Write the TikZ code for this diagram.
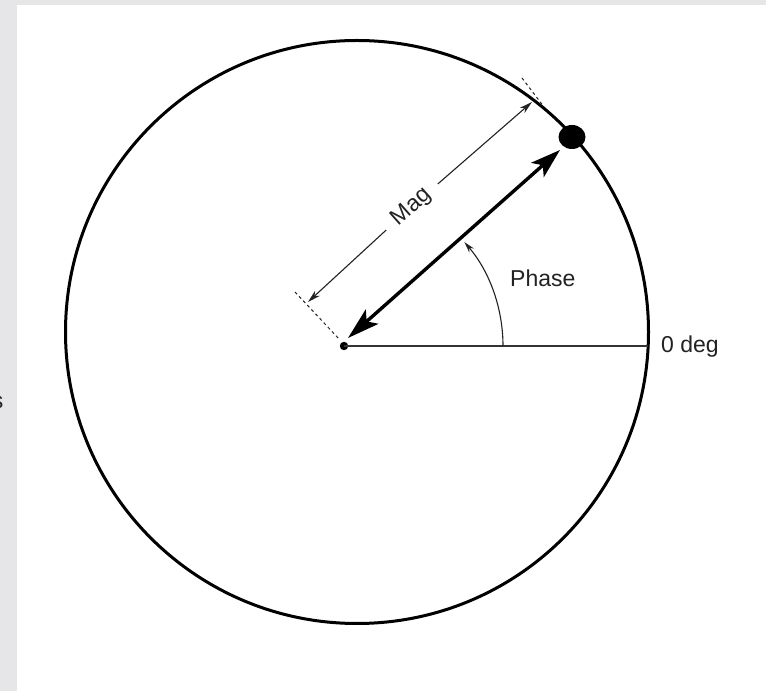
\documentclass[tikz,border=0pt]{standalone}
\usepackage{fontspec}
\setmainfont{Liberation Sans}
\usetikzlibrary{arrows.meta,shapes.geometric}
\definecolor{edgegray}{HTML}{E6E6E8}
\definecolor{ink}{HTML}{222222}
\tikzset{
  lbl/.style={font=\fontsize{23}{27}\selectfont, text=ink, inner sep=0pt},
  rim/.style={line width=3pt, black},
  vec/.style={line width=3.4pt, black, {Stealth[length=32pt,width=19pt,inset=7pt]}-{Stealth[length=30pt,width=19pt,inset=7pt]}},
  dim/.style={line width=1.1pt, ink, -{Stealth[length=13pt,width=7pt]}},
  ext/.style={line width=1pt, ink, dash pattern=on 3pt off 3pt},
  axis/.style={line width=1.8pt, black!80},
  phasearc/.style={line width=1.1pt, ink, -{Stealth[length=11pt,width=6pt]}}
}
\begin{document}
\begin{tikzpicture}[x=1pt,y=1pt]
\clip (0,0) rectangle (766,691);
\useasboundingbox (0,0) rectangle (766,691);
\fill[white] (0,0) rectangle (766,691);
\fill[edgegray] (0,0) rectangle (17,691);
\fill[edgegray] (0,686) rectangle (766,691);
\node[lbl, anchor=east] (cut) at (3.5,289) {s};
% rim
\draw[rim] (357,359) circle (291.5);
% points
\coordinate (O) at (344,345);
\coordinate (zero) at (648,345);
\fill[black] (O) circle (4.2);
\node[ellipse, fill=black, minimum width=27pt, minimum height=24pt, inner sep=0pt] (pt) at (572,554) {};
% axis
\draw[axis] (O) -- (zero);
% vector
\coordinate (vt) at (348,353);
\coordinate (vh) at (560,541);
\draw[vec] (vt) -- (vh);
% magnitude dimension
\coordinate (mA) at (308,389);
\coordinate (mB) at (532,589);
\node[lbl, rotate=41.76, inner xsep=12pt] (mag) at (412,484) {Mag};
\draw[dim] (mag.west) -- (mA);
\draw[dim] (mag.east) -- (mB);
\coordinate (eA1) at (295,399);
\coordinate (eA2) at (340,351);
\coordinate (eB1) at (522,613);
\coordinate (eB2) at (544,584);
\draw[ext] (eA1) -- (eA2);
\draw[ext] (eB1) -- (eB2);
% phase arc
\draw[phasearc] ([shift={(0:159)}]O) arc[start angle=0, end angle=40.8, radius=159];
\node[lbl, anchor=base west] (phase) at (510,404) {Phase};
\node[lbl, anchor=base west] (zdeg) at (661,338) {0 deg};
\end{tikzpicture}
\end{document}
